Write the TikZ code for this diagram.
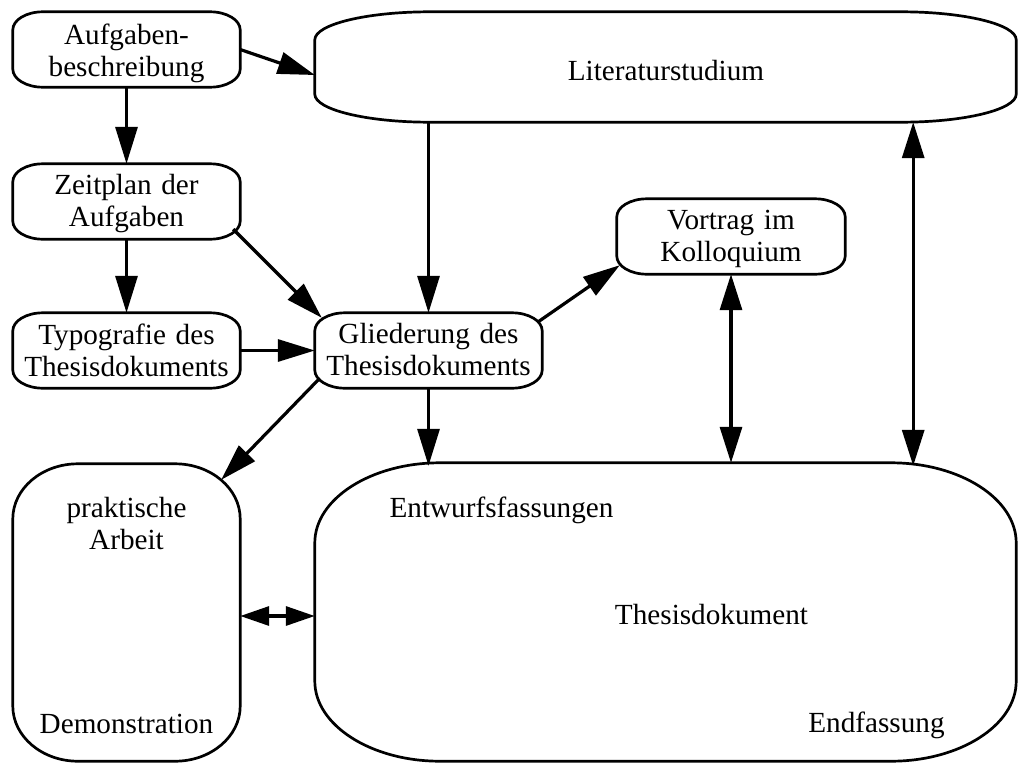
\documentclass[tikz,border=0pt]{standalone}
\usepackage{fontspec}
\setmainfont{Liberation Serif}
\usetikzlibrary{arrows.meta}
\newcommand\cfac{0.55}
\newcommand\rbox[3]{%
  \draw[boxline] ([yshift=-#3]#1.north west) -- ([yshift=#3]#1.south west)
    .. controls +(0pt,-\cfac*#3) and +(-\cfac*#2,0pt) .. ([xshift=#2]#1.south west)
    -- ([xshift=-#2]#1.south east)
    .. controls +(\cfac*#2,0pt) and +(0pt,-\cfac*#3) .. ([yshift=#3]#1.south east)
    -- ([yshift=-#3]#1.north east)
    .. controls +(0pt,\cfac*#3) and +(\cfac*#2,0pt) .. ([xshift=-#2]#1.north east)
    -- ([xshift=#2]#1.north west)
    .. controls +(-\cfac*#2,0pt) and +(0pt,\cfac*#3) .. ([yshift=-#3]#1.north west) -- cycle;}
\tikzset{
  boxline/.style={line width=2.7pt, line join=round},
  area/.style={shape=rectangle, draw=none, inner sep=0pt},
  txt/.style={anchor=base, align=center, inner sep=0pt, text width=240pt,
    font=\fontsize{29.2}{32}\selectfont},
  conn/.style={line width=3.2pt, -{Triangle[length=37pt,width=22pt]}},
  conn2/.style={line width=3.2pt, {Triangle[length=36pt,width=22pt]}-{Triangle[length=36pt,width=22pt]}},
  conn3/.style={line width=3.2pt, {Triangle[length=29pt,width=19pt]}-{Triangle[length=29pt,width=19pt]}}
}
\begin{document}
\begin{tikzpicture}[x=1pt,y=-1pt]
\useasboundingbox (0,0) rectangle (1019,763);
% boxes
\node[area, minimum width=227pt, minimum height=75pt] (A) at (126.5,49.5) {};
\node[area, minimum width=227pt, minimum height=75pt] (Z) at (126.5,201.5) {};
\node[area, minimum width=227pt, minimum height=75pt] (T) at (126.5,350.5) {};
\node[area, minimum width=227pt, minimum height=75pt] (G) at (428.5,350.5) {};
\node[area, minimum width=228pt, minimum height=75pt] (V) at (731,236.5) {};
\node[area, minimum width=701pt, minimum height=110pt] (L) at (665.5,67) {};
\node[area, minimum width=227pt, minimum height=297pt] (P) at (126.5,612.5) {};
\node[area, minimum width=701pt, minimum height=298pt] (D) at (665.5,612) {};
\rbox{A}{30pt}{18pt}
\rbox{Z}{30pt}{18pt}
\rbox{T}{30pt}{18pt}
\rbox{G}{30pt}{18pt}
\rbox{V}{30pt}{18pt}
\rbox{L}{115pt}{28pt}
\rbox{P}{65pt}{55pt}
\rbox{D}{125pt}{80pt}
% texts
\node[txt] (tA) at (126.5,44) {Aufgaben-\\beschreibung};
\node[txt] (tZ) at (126.5,194) {Zeitplan der\\Aufgaben};
\node[txt] (tT) at (126.5,344) {Typografie des\\Thesisdokuments};
\node[txt] (tG) at (428.5,343) {Gliederung des\\Thesisdokuments};
\node[txt] (tV) at (731,229) {Vortrag im\\Kolloquium};
\node[txt] (tL) at (666,80) {Literaturstudium};
\node[txt] (tP) at (126.5,517) {praktische\\Arbeit};
\node[txt] (tP2) at (126.5,733) {Demonstration};
\node[txt] (tD1) at (501.5,517) {Entwurfsfassungen};
\node[txt] (tD) at (711.5,624) {Thesisdokument};
\node[txt] (tD2) at (876.5,732) {Endfassung};
% connectors
\draw[conn] (A.east) -- ([yshift=-8pt]L.west);
\draw[conn] (A.south) -- (Z.north);
\draw[conn] (Z.south) -- (T.north);
\draw[conn] ([shift={(-7pt,10pt)}]Z.south east) -- ([shift={(7pt,-5pt)}]G.north west);
\draw[conn] (T.east) -- (G.west);
\draw[conn] (L.south -| G.north) -- (G.north);
\draw[conn] ([shift={(-4pt,-9pt)}]G.north east) -- ([shift={(3pt,9pt)}]V.south west);
\draw[conn] ([shift={(5pt,10pt)}]G.south west) -- ([shift={(-19pt,-16pt)}]P.north east);
\draw[conn] (G.south) -- ([yshift=-3pt]G.south |- D.north);
\draw[conn2] (V.south) -- (V.south |- D.north);
\draw[conn2] ([xshift=-103pt]L.south east) -- ([xshift=-103pt,yshift=-3pt]D.north east);
\draw[conn3] ([yshift=-3.5pt]P.east) -- ([yshift=-3.5pt]P.east -| D.west);
\end{tikzpicture}
\end{document}
